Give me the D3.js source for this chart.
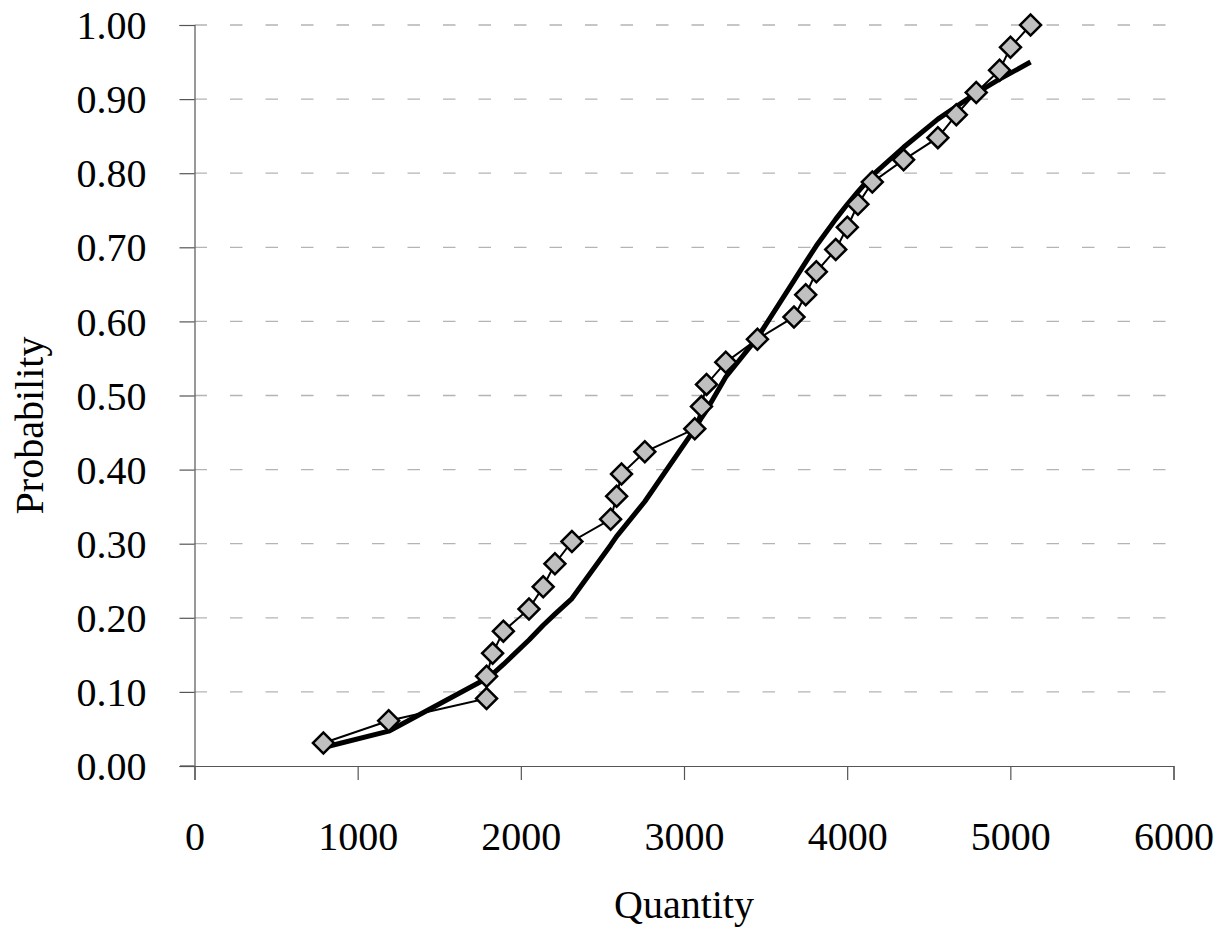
<!DOCTYPE html>
<html>
<head>
<meta charset="utf-8">
<script src="https://cdn.jsdelivr.net/npm/d3@7"></script>
<style>
	body{margin:0;background:#fff;}
	svg text{font-family:"Liberation Serif","Times New Roman",serif;fill:#000;}
</style>
</head>
<body>
<svg id="chart" width="1217" height="935"></svg>
<script>
// observed quantities (sorted sample) and their cumulative probabilities
const quantity = [790,1190,1790,1790,1827,1893,2050,2137,2209,2313,2550,2587,2617,2760,3066,3107,3138,3256,3450,3674,3746,3811,3930,4001,4066,4154,4346,4556,4669,4791,4934,5001,5124];
const observed = [0.031,0.061,0.091,0.121,0.152,0.182,0.212,0.242,0.273,0.303,0.333,0.364,0.394,0.424,0.455,0.485,0.515,0.545,0.576,0.606,0.636,0.667,0.697,0.727,0.758,0.788,0.818,0.848,0.879,0.909,0.939,0.970,1.000];
// fitted curve
const fitted = [0.025,0.047,0.118,0.118,0.124,0.137,0.170,0.190,0.205,0.226,0.298,0.310,0.318,0.357,0.455,0.470,0.480,0.525,0.578,0.655,0.680,0.702,0.738,0.758,0.775,0.797,0.835,0.873,0.890,0.908,0.927,0.935,0.950];

const xTicks = [0,1000,2000,3000,4000,5000,6000];
const yTicks = [0,0.1,0.2,0.3,0.4,0.5,0.6,0.7,0.8,0.9,1.0];

const svg = d3.select('#chart');
const plotL = 194.5, plotR = 1173.5, plotT = 25, plotB = 766;

const x = d3.scaleLinear().domain([0,6000]).range([plotL,plotR]);
const y = d3.scaleLinear().domain([0,1]).range([plotB,plotT]);

// dashed gridlines
svg.append('g')
	.selectAll('line')
	.data(yTicks.slice(1))
	.join('line')
		.attr('x1',plotL).attr('x2',plotR)
		.attr('y1',d=>y(d)).attr('y2',d=>y(d))
		.attr('stroke','#b4b4b4')
		.attr('stroke-width',1.3)
		.attr('stroke-dasharray','12.5,23');

// axes
const yAxis = svg.append('g')
	.attr('transform','translate('+plotL+',0)')
	.call(d3.axisLeft(y).tickValues(yTicks).tickSize(15).tickPadding(33).tickFormat(d3.format('.2f')));
const xAxis = svg.append('g')
	.attr('transform','translate(0,'+plotB+')')
	.call(d3.axisBottom(x).tickValues(xTicks).tickSize(14).tickPadding(42).tickFormat(d3.format('d')));

[yAxis,xAxis].forEach(a=>{
	a.select('.domain').attr('stroke','#555').attr('stroke-width',1.2);
	a.selectAll('.tick line').attr('stroke','#555').attr('stroke-width',1.2);
	a.selectAll('text').style('font-size','40px').attr('fill','#000');
});
yAxis.selectAll('text').attr('dy','0.34em');
// x axis line extends left past the y axis like the original
xAxis.append('line')
	.attr('x1',180).attr('x2',plotL)
	.attr('stroke','#555').attr('stroke-width',1.2);

const pts = quantity.map((q,i)=>({q:q,obs:observed[i],fit:fitted[i]}));

// fitted line (thick)
svg.append('path')
	.datum(pts)
	.attr('fill','none')
	.attr('stroke','#000')
	.attr('stroke-width',5)
	.attr('stroke-linejoin','round')
	.attr('d',d3.line().x(d=>x(d.q)).y(d=>y(d.fit)));

// observed line (thin)
svg.append('path')
	.datum(pts)
	.attr('fill','none')
	.attr('stroke','#000')
	.attr('stroke-width',2)
	.attr('d',d3.line().x(d=>x(d.q)).y(d=>y(d.obs)));

// diamond markers
const sym = d3.symbol().type(d3.symbolSquare).size(220);
svg.append('g')
	.selectAll('path')
	.data(pts)
	.join('path')
		.attr('d',sym)
		.attr('transform',d=>'translate('+x(d.q)+','+y(d.obs)+') rotate(45)')
		.attr('fill','#c0c0c0')
		.attr('stroke','#000')
		.attr('stroke-width',2.5);

// axis titles
svg.append('text')
	.attr('x',(plotL+plotR)/2)
	.attr('y',918)
	.attr('text-anchor','middle')
	.style('font-size','40px')
	.text('Quantity');
svg.append('text')
	.attr('transform','translate(43,'+((plotT+plotB)/2+30)+') rotate(-90)')
	.attr('text-anchor','middle')
	.style('font-size','40px')
	.text('Probability');
</script>
</body>
</html>
